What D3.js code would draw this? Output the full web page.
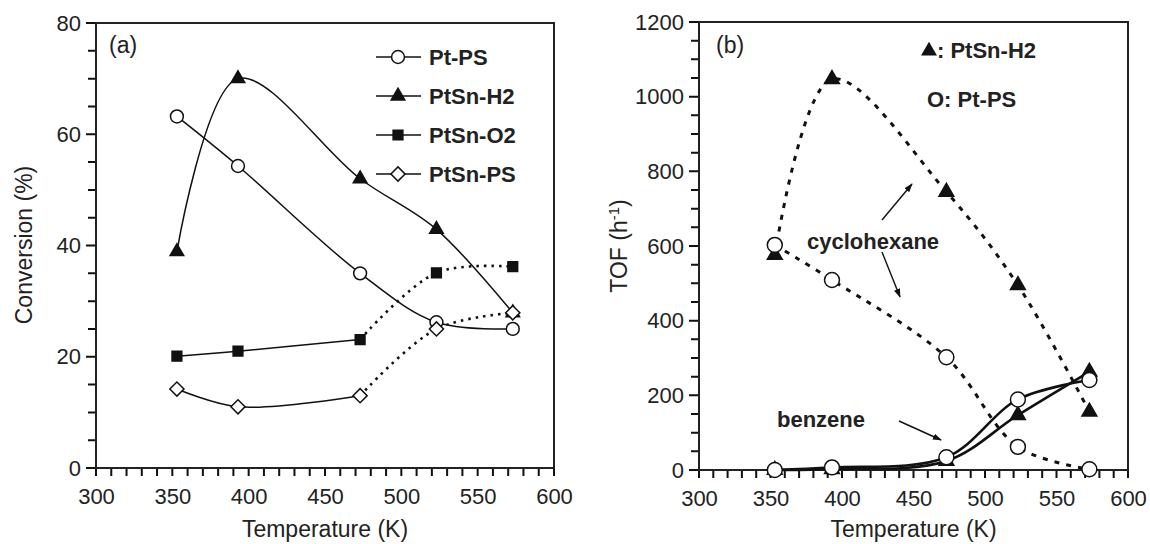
<!DOCTYPE html>
<html>
<head>
<meta charset="utf-8">
<script src="https://cdn.jsdelivr.net/npm/d3@7"></script>
<style>
  body { margin: 0; background: #fff; }
  text { font-family: "Liberation Sans", Arial, sans-serif; fill: #222; }
</style>
</head>
<body>
<div id="chart"></div>
<script>
// temperatures (K)
const tempK = [353, 393, 473, 523, 573];

// (a) conversion (%)
const convPtPS   = [63.2, 54.3, 35.0, 26.2, 25.0];
const convPtSnH2 = [38.9, 70.0, 52.0, 42.9, 27.9];
const convPtSnO2 = [20.1, 21.0, 23.1, 35.1, 36.2];
const convPtSnPS = [14.2, 11.0, 13.0, 25.0, 27.9];

// (b) TOF (h-1)
const tofCycloPtSnH2 = [576, 1047, 745, 495, 156];
const tofCycloPtPS   = [603, 509, 302, 62, 2];
const tofBenzPtPS    = [0, 7, 34, 189, 241];
const tofBenzPtSnH2  = [0, 2, 24, 147, 263];

const xTicks = [300, 350, 400, 450, 500, 550, 600];
const yTicksA = [0, 20, 40, 60, 80];
const yTicksB = [0, 200, 400, 600, 800, 1000, 1200];

const width = 1150, height = 544;

const svg = d3.select("#chart").append("svg")
    .attr("width", width)
    .attr("height", height);

const defs = svg.append("defs");
defs.append("marker")
    .attr("id", "arrow")
    .attr("viewBox", "0 0 10 10")
    .attr("refX", 9).attr("refY", 5)
    .attr("markerWidth", 9).attr("markerHeight", 9)
    .attr("markerUnits", "userSpaceOnUse")
    .attr("orient", "auto")
    .append("path")
    .attr("d", "M0,1.5 L10,5 L0,8.5 Z")
    .attr("fill", "#111");

function frame(box, yDomain, yMajor, yMinorStep) {
    const x = d3.scaleLinear().domain([300, 600]).range([box.left, box.right]);
    const y = d3.scaleLinear().domain(yDomain).range([box.bottom, box.top]);
    const g = svg.append("g");

    // tick marks, one path
    const tp = d3.path();
    d3.range(300, 601, 10).forEach(v => {
        tp.moveTo(x(v), box.bottom);
        tp.lineTo(x(v), box.bottom + 8);
    });
    d3.range(yDomain[0], yDomain[1] + 1, yMinorStep).forEach(v => {
        const len = yMajor.includes(v) ? 10 : 8;
        tp.moveTo(box.left - len, y(v));
        tp.lineTo(box.left, y(v));
    });
    g.append("path")
        .attr("d", tp.toString())
        .attr("fill", "none")
        .attr("stroke", "#111")
        .attr("stroke-width", 2);

    // labels
    g.append("g")
        .attr("transform", `translate(0,${box.bottom})`)
        .call(d3.axisBottom(x).tickValues(xTicks).tickSize(0).tickPadding(20).tickFormat(d3.format("d")))
        .call(s => s.select(".domain").remove())
        .call(s => s.selectAll("text").attr("fill", "#222").style("font-size", "22px"));
    g.append("g")
        .attr("transform", `translate(${box.left},0)`)
        .call(d3.axisLeft(y).tickValues(yMajor).tickSize(0).tickPadding(15).tickFormat(d3.format("d")))
        .call(s => s.select(".domain").remove())
        .call(s => s.selectAll("text").attr("fill", "#222").style("font-size", "22px"));

    g.append("rect")
        .attr("x", box.left).attr("y", box.top)
        .attr("width", box.right - box.left).attr("height", box.bottom - box.top)
        .attr("fill", "none").attr("stroke", "#222").attr("stroke-width", 2);

    g.append("text")
        .attr("x", (box.left + box.right) / 2).attr("y", 537)
        .attr("text-anchor", "middle").style("font-size", "23px")
        .text("Temperature (K)");
    return { x, y, g };
}

function drawLine(p, xs, ys, opts) {
    const line = d3.line()
        .x(d => p.x(d[0])).y(d => p.y(d[1]))
        .curve(d3.curveCatmullRom.alpha(0.5));
    p.g.append("path")
        .datum(d3.zip(xs, ys))
        .attr("d", line)
        .attr("fill", "none")
        .attr("stroke", "#111")
        .attr("stroke-width", opts.width)
        .attr("stroke-dasharray", opts.dash || null);
}

function sym(type, size) {
    return d3.symbol().type(type).size(size)();
}

function drawMarkers(p, xs, ys, m) {
    p.g.selectAll(null)
        .data(d3.zip(xs, ys))
        .enter().append("path")
        .attr("d", sym(m.type, m.size))
        .attr("transform", d => `translate(${p.x(d[0])},${p.y(d[1])}) rotate(${m.rot || 0})`)
        .attr("fill", m.fill)
        .attr("stroke", "#111")
        .attr("stroke-width", 1.5);
}

// ---------- panel (a) ----------
const pa = frame({ left: 96, right: 554, top: 23, bottom: 468 }, [0, 80], yTicksA, 5);

const mCircleA  = { type: d3.symbolCircle, size: 130, fill: "#fff" };
const mTriA     = { type: d3.symbolTriangle, size: 80, fill: "#111" };
const mSquareA  = { type: d3.symbolSquare, size: 95, fill: "#111" };
const mDiamondA = { type: d3.symbolSquare, size: 100, fill: "#fff", rot: 45 };

drawLine(pa, tempK, convPtPS, { width: 1.5 });
drawLine(pa, tempK, convPtSnH2, { width: 1.5 });
drawLine(pa, tempK.slice(0, 3), convPtSnO2.slice(0, 3), { width: 1.5 });
drawLine(pa, tempK.slice(2), convPtSnO2.slice(2), { width: 2.6, dash: "2.5,5" });
drawLine(pa, tempK.slice(0, 3), convPtSnPS.slice(0, 3), { width: 1.5 });
drawLine(pa, tempK.slice(2), convPtSnPS.slice(2), { width: 2.6, dash: "2.5,5" });

drawMarkers(pa, tempK, convPtSnH2, mTriA);
drawMarkers(pa, tempK, convPtSnO2, mSquareA);
drawMarkers(pa, tempK, convPtPS, mCircleA);
drawMarkers(pa, tempK, convPtSnPS, mDiamondA);

pa.g.append("text").attr("x", 109).attr("y", 53).style("font-size", "23px").text("(a)");

pa.g.append("text")
    .attr("transform", "translate(32,245) rotate(-90)")
    .attr("text-anchor", "middle").style("font-size", "23px")
    .text("Conversion (%)");

// legend (a)
const legendA = [
    { name: "Pt-PS", m: mCircleA },
    { name: "PtSn-H2", m: mTriA },
    { name: "PtSn-O2", m: mSquareA },
    { name: "PtSn-PS", m: mDiamondA }
];
legendA.forEach((d, i) => {
    const yy = 57 + i * 39;
    pa.g.append("line").attr("x1", 376).attr("x2", 421).attr("y1", yy).attr("y2", yy)
        .attr("stroke", "#111").attr("stroke-width", 1.5);
    pa.g.append("path").attr("d", sym(d.m.type, d.m.size))
        .attr("transform", `translate(398,${yy}) rotate(${d.m.rot || 0})`)
        .attr("fill", d.m.fill).attr("stroke", "#111").attr("stroke-width", 1.5);
    pa.g.append("text").attr("x", 429).attr("y", yy + 8)
        .style("font-size", "22px").style("font-weight", "bold").text(d.name);
});

// ---------- panel (b) ----------
const pb = frame({ left: 699, right: 1128, top: 22, bottom: 470 }, [0, 1200], yTicksB, 50);

const mCircleB = { type: d3.symbolCircle, size: 175, fill: "#fff" };
const mTriB    = { type: d3.symbolTriangle, size: 95, fill: "#111" };

drawLine(pb, tempK, tofCycloPtSnH2, { width: 3, dash: "5,7" });
drawLine(pb, tempK, tofCycloPtPS, { width: 3, dash: "5,7" });
drawLine(pb, tempK, tofBenzPtSnH2, { width: 2.6 });
drawLine(pb, tempK, tofBenzPtPS, { width: 2.6 });

drawMarkers(pb, tempK, tofCycloPtSnH2, mTriB);
drawMarkers(pb, tempK, tofBenzPtSnH2, mTriB);
drawMarkers(pb, tempK, tofCycloPtPS, mCircleB);
drawMarkers(pb, tempK, tofBenzPtPS, mCircleB);

pb.g.append("text").attr("x", 716).attr("y", 53).style("font-size", "23px").text("(b)");

const tofTitle = pb.g.append("text")
    .attr("transform", "translate(627,246) rotate(-90)")
    .attr("text-anchor", "middle").style("font-size", "23px");
tofTitle.append("tspan").text("TOF (h");
tofTitle.append("tspan").attr("dy", -8).style("font-size", "15px").text("-1");
tofTitle.append("tspan").attr("dy", 8).text(")");

// "▲: PtSn-H2" key: triangle glyph drawn as symbol, rest as text
pb.g.append("path").attr("d", sym(d3.symbolTriangle, 110))
    .attr("transform", "translate(929,51)").attr("fill", "#111");
pb.g.append("text").attr("x", 937).attr("y", 58)
    .style("font-size", "22px").style("font-weight", "bold").text(": PtSn-H2");
pb.g.append("text").attr("x", 927).attr("y", 107)
    .style("font-size", "22px").style("font-weight", "bold").text("O: Pt-PS");
pb.g.append("text").attr("x", 807).attr("y", 249)
    .style("font-size", "22px").style("font-weight", "bold").text("cyclohexane");
pb.g.append("text").attr("x", 777).attr("y", 427)
    .style("font-size", "22px").style("font-weight", "bold").text("benzene");

const arrows = [
    [882, 220, 912, 184],
    [882, 252, 900, 297],
    [899, 421, 941, 440]
];
pb.g.selectAll(null).data(arrows).enter().append("line")
    .attr("x1", d => d[0]).attr("y1", d => d[1])
    .attr("x2", d => d[2]).attr("y2", d => d[3])
    .attr("stroke", "#111").attr("stroke-width", 1.4)
    .attr("marker-end", "url(#arrow)");
</script>
</body>
</html>
